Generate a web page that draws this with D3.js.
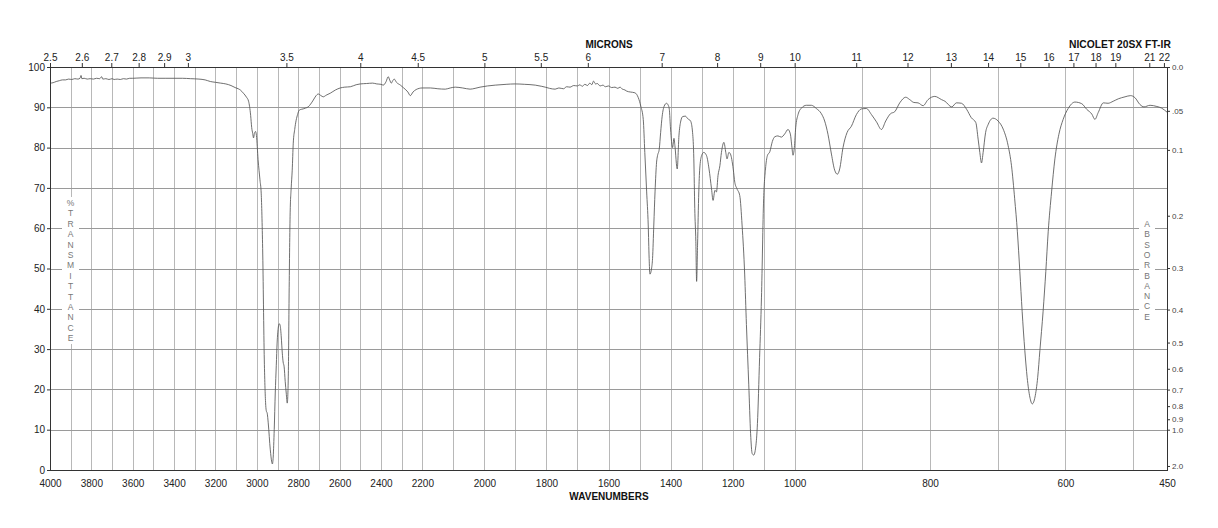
<!DOCTYPE html>
<html>
<head>
<meta charset="utf-8">
<script src="https://cdn.jsdelivr.net/npm/d3@7"></script>
<style>
  html, body { margin: 0; padding: 0; background: #fff; }
  svg { display: block; font-family: "Liberation Sans", Arial, Helvetica, sans-serif; }
</style>
</head>
<body>
<svg id="chart" width="1218" height="528"></svg>
<script>
// ---------------- DATA ----------------
const wavenumbers = [
  4000,3985,3970,3955,3940,3925,3910,3895,3880,3865,3855,3850,3846,3835,3820,3806,3790,3775,3760,3750,
  3745,3730,3715,3700,3690,3675,3660,3645,3630,3615,3600,3560,3520,3480,3440,3400,3360,3320,3280,3250,
  3225,3200,3175,3150,3125,3105,3090,3080,3065,3050,3040,3030,3025,3020,3016,3012,3006,3002,2994,2985,
  2979,2972,2964,2957,2954,2950,2945,2935,2928,2925,2921,2916,2911,2906,2902,2896,2892,2887,2882,2877,
  2873,2868,2863,2858,2853,2848,2844,2839,2834,2829,2824,2817,2810,2803,2795,2785,2776,2765,2752,2740,
  2727,2715,2703,2690,2679,2665,2645,2620,2597,2575,2548,2520,2500,2470,2440,2420,2400,2389,2375,2365,
  2358,2350,2343,2336,2325,2306,2290,2270,2258,2245,2230,2215,2200,2174,2150,2126,2110,2094,2070,2046,
  2030,2014,1990,1965,1930,1901,1870,1836,1815,1804,1790,1772,1760,1745,1735,1724,1712,1700,1692,1685,
  1676,1668,1660,1654,1648,1642,1636,1627,1618,1610,1600,1590,1579,1570,1563,1555,1547,1541,1530,1515,
  1504,1496,1488,1483,1477,1472,1469,1466.5,1463,1461,1458,1454,1450,1445,1442,1436.5,1432,1427,1420.5,1413,
  1408,1404,1400,1393.5,1389,1386,1378.5,1373,1367,1361,1352,1345,1335.5,1329,1325,1322,1318.5,1316,1313,1309,
  1306,1300,1293,1284,1276,1268,1263,1257,1252,1247,1241,1236,1228,1222,1218,1212,1207,1198,1193,1186,
  1177,1169.5,1161,1155.5,1148,1142,1137,1132,1125.5,1120,1113,1107,1100,1094,1088,1080,1072,1064,1054,1043,
  1032,1021.5,1014,1008.7,1005.5,1001,998.5,995,990,982.7,975.3,968,960.5,955.7,950.8,945.7,940.9,936.9,933.5,928.6,
  922.7,916.2,908.8,901.4,894,886.6,879.2,871.8,865.5,858.5,852.2,844.8,836,830,824,817.7,810.3,803,793,783,
  778,768,761,753.6,746,739,732.4,729,726.5,724,721.6,718,714,707,699.5,692,684.7,679.7,675,671,
  667.4,664,660,656.6,652.6,649,645,641,637.8,633,629,625.5,620.5,615.6,609.7,603.4,596,586,576,568.6,
  561,556.5,551.6,544,537,529.5,522,512,503.7,497.4,490,484,475,465,458,450
];
const transmittance = [
  96.0,96.1,96.4,96.6,96.8,96.8,97.0,96.9,97.1,97.0,97.2,97.9,97.1,97.2,97.0,97.1,97.0,97.2,97.1,97.6,
  97.0,97.1,96.9,97.1,96.9,97.0,96.9,97.1,97.0,97.2,97.2,97.3,97.3,97.2,97.2,97.2,97.2,97.1,97.0,96.8,
  96.4,96.2,96.0,95.8,95.4,94.9,94.6,94.3,93.5,92.5,91.5,88.0,85.0,83.5,82.4,83.5,84.0,83.0,77.0,72.0,
  68.7,55.0,27.3,16.0,14.6,14.1,11.7,5.0,2.0,1.5,3.2,10.0,19.1,26.0,31.5,35.5,36.3,35.8,33.0,29.0,
  26.8,25.6,22.0,19.1,16.6,23.1,43.9,63.8,70.0,74.4,81.1,84.5,86.8,88.2,89.3,89.5,89.6,89.8,90.1,90.8,
  91.8,92.8,93.3,92.9,92.6,93.0,93.5,94.3,94.8,95.0,95.1,95.6,95.8,95.9,96.0,95.8,95.7,95.5,96.4,97.6,
  96.8,96.0,96.6,97.0,96.2,95.5,94.8,93.8,92.9,93.8,94.4,94.7,94.8,94.8,94.6,94.5,94.8,95.0,94.8,94.5,
  94.7,95.0,95.3,95.5,95.7,95.8,95.7,95.5,95.2,95.0,94.7,94.5,94.8,94.6,95.1,95.0,95.4,95.3,95.6,95.2,
  95.7,95.4,96.0,95.6,96.5,95.8,95.9,95.3,95.5,95.1,95.3,94.9,95.0,94.7,95.0,94.5,94.3,94.0,93.8,93.6,
  92.4,90.3,87.0,78.8,69.0,60.8,52.5,48.6,49.2,50.1,52.5,60.8,69.0,76.4,78.0,79.6,83.7,87.8,90.3,91.0,
  90.6,89.5,84.6,80.0,82.3,80.5,74.7,82.9,86.6,87.7,87.8,87.2,86.6,83.7,77.2,64.9,56.7,46.8,55.8,69.0,
  74.7,78.0,78.8,78.0,74.7,69.8,66.9,69.4,69.0,73.1,75.5,78.8,81.3,78.8,77.2,78.8,78.4,74.7,71.4,69.8,
  68.1,60.8,48.4,36.1,21.3,9.0,4.1,3.7,5.7,11.5,27.9,42.7,67.3,74.7,78.0,79.0,81.5,82.7,82.9,82.6,
  83.4,84.5,83.4,80.0,78.1,80.0,84.9,88.2,89.8,90.5,90.5,89.7,88.4,86.6,83.3,78.4,74.4,73.4,74.7,80.0,
  83.7,85.3,88.2,89.6,89.7,88.2,86.4,84.5,86.6,88.4,88.9,91.1,92.5,91.9,91.2,91.1,90.4,91.9,92.7,91.9,
  91.5,90.1,91.1,91.0,89.5,87.4,86.2,82.1,78.8,76.2,78.8,83.7,85.8,87.3,86.6,84.6,80.5,75.5,67.3,59.1,
  49.3,39.4,29.6,23.0,18.1,16.4,18.1,23.0,29.6,39.4,49.3,59.1,69.0,77.2,83.3,87.0,89.7,91.3,90.9,89.5,
  88.3,87.0,88.7,91.1,91.0,91.5,92.1,92.6,92.9,92.4,90.7,90.1,90.5,90.2,89.8,88.8
];

const wavenumberTicks = [4000,3800,3600,3400,3200,3000,2800,2600,2400,2200,2000,1800,1600,1400,1200,1000,800,600,450];
const micronTicks = [2.5,2.6,2.7,2.8,2.9,3,3.5,4,4.5,5,5.5,6,7,8,9,10,11,12,13,14,15,16,17,18,19,21,22];
const transmittanceTicks = [0,10,20,30,40,50,60,70,80,90,100];
const absorbanceTicks = [0.0,0.05,0.1,0.2,0.3,0.4,0.5,0.6,0.7,0.8,0.9,1.0,2.0];
const absorbanceLabels = ["0.0",".05","0.1","0.2","0.3","0.4","0.5","0.6","0.7","0.8","0.9","1.0","2.0"];
const gridWavenumbers = d3.range(3900, 499, -100);
const gridTransmittance = [10,20,30,40,50,60,70,80,90];

// ---------------- LAYOUT ----------------
const L = 50, R = 1167, T = 67, B = 470;
const W = R - L;
const svg = d3.select("#chart");

const x = d3.scaleLinear()
  .domain([4000, 2200, 1000, 450])
  .range([L, L + W / 3, L + 2 * W / 3, R]);
const y = d3.scaleLinear().domain([0, 100]).range([B, T]);

const axisColor = "#333";

// grid
svg.append("g").selectAll("line").data(gridWavenumbers).join("line")
  .attr("x1", d => Math.round(x(d)) + 0.5).attr("x2", d => Math.round(x(d)) + 0.5)
  .attr("y1", T).attr("y2", B)
  .attr("stroke", "#b8b8b8").attr("stroke-width", 1);
svg.append("g").selectAll("line").data(gridTransmittance).join("line")
  .attr("x1", L).attr("x2", R)
  .attr("y1", d => Math.round(y(d)) + 0.5).attr("y2", d => Math.round(y(d)) + 0.5)
  .attr("stroke", "#9a9a9a").attr("stroke-width", 1);

// white panels behind vertical captions
svg.append("rect").attr("x", 62).attr("y", 197).attr("width", 17).attr("height", 147).attr("fill", "#fff");
svg.append("rect").attr("x", 1139).attr("y", 213).attr("width", 16).attr("height", 112).attr("fill", "#fff");

// vertical captions
const leftCaption = "%TRANSMITTANCE".split("");
svg.append("g").selectAll("text").data(leftCaption).join("text")
  .attr("x", 70.5).attr("y", (d, i) => 206 + i * 10.4)
  .attr("text-anchor", "middle").attr("font-size", 8.5).attr("fill", "#777")
  .text(d => d);
const rightCaption = "ABSORBANCE".split("");
svg.append("g").selectAll("text").data(rightCaption).join("text")
  .attr("x", 1147).attr("y", (d, i) => 227 + i * 10.3)
  .attr("text-anchor", "middle").attr("font-size", 8.5).attr("fill", "#777")
  .text(d => d);

// spectrum
const line = d3.line()
  .x((d, i) => x(wavenumbers[i]))
  .y((d, i) => y(transmittance[i]))
  .curve(d3.curveMonotoneX);
svg.append("path")
  .datum(transmittance)
  .attr("d", line)
  .attr("fill", "none")
  .attr("stroke", "#555")
  .attr("stroke-width", 0.85)
  .attr("stroke-linejoin", "round");

// frame lines
svg.append("line").attr("x1", L).attr("x2", R).attr("y1", T + 0.5).attr("y2", T + 0.5).attr("stroke", axisColor);
svg.append("line").attr("x1", L).attr("x2", R).attr("y1", B + 0.5).attr("y2", B + 0.5).attr("stroke", axisColor);
svg.append("line").attr("x1", L + 0.5).attr("x2", L + 0.5).attr("y1", T).attr("y2", B + 1).attr("stroke", axisColor);
svg.append("line").attr("x1", R + 0.5).attr("x2", R + 0.5).attr("y1", T).attr("y2", B + 1).attr("stroke", axisColor);

// bottom axis (wavenumbers)
const bottomAxis = d3.axisBottom(x).tickValues(wavenumberTicks).tickSize(0).tickPadding(10)
  .tickFormat(d => String(d));
const gb = svg.append("g").attr("transform", `translate(0,${B})`).call(bottomAxis);
gb.select(".domain").remove();
gb.selectAll("text").attr("font-size", 10).attr("fill", "#222").attr("font-family", "Liberation Sans, Arial, sans-serif");

// top axis (microns)
const topAxis = d3.axisTop(x).tickValues(micronTicks.map(m => 10000 / m)).tickSize(4).tickPadding(2)
  .tickFormat((d, i) => String(micronTicks[i]));
const gt = svg.append("g").attr("transform", `translate(0,${T})`).call(topAxis);
gt.select(".domain").remove();
gt.selectAll("line").attr("stroke", axisColor);
gt.selectAll("text").attr("font-size", 10).attr("fill", "#222").attr("font-family", "Liberation Sans, Arial, sans-serif");

// left axis (%T)
const leftAxis = d3.axisLeft(y).tickValues(transmittanceTicks).tickSize(3).tickPadding(2)
  .tickFormat(d => String(d));
const gl = svg.append("g").attr("transform", `translate(${L},0)`).call(leftAxis);
gl.select(".domain").remove();
gl.selectAll("line").attr("stroke", axisColor);
gl.selectAll("text").attr("font-size", 10).attr("fill", "#222").attr("font-family", "Liberation Sans, Arial, sans-serif");

// right axis (absorbance)
const rightAxis = d3.axisRight(y).tickValues(absorbanceTicks.map(a => 100 * Math.pow(10, -a))).tickSize(3).tickPadding(2)
  .tickFormat((d, i) => absorbanceLabels[i]);
const gr = svg.append("g").attr("transform", `translate(${R},0)`).call(rightAxis);
gr.select(".domain").remove();
gr.selectAll("line").attr("stroke", axisColor);
gr.selectAll("text").attr("font-size", 8).attr("fill", "#444").attr("font-family", "Liberation Sans, Arial, sans-serif");

// titles
svg.append("text").attr("x", 609).attr("y", 48).attr("text-anchor", "middle")
  .attr("font-size", 10).attr("font-weight", "bold").attr("fill", "#111").text("MICRONS");
svg.append("text").attr("x", 1069).attr("y", 48).attr("text-anchor", "start")
  .attr("font-size", 10.3).attr("font-weight", "bold").attr("fill", "#111").text("NICOLET 20SX FT-IR");
svg.append("text").attr("x", 609).attr("y", 500).attr("text-anchor", "middle")
  .attr("font-size", 10).attr("font-weight", "bold").attr("fill", "#111").text("WAVENUMBERS");
</script>
</body>
</html>
